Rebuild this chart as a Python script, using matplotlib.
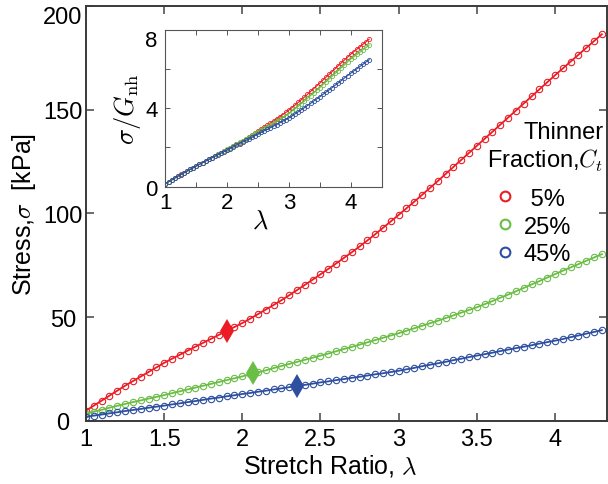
import matplotlib
matplotlib.use("Agg")
import matplotlib.pyplot as plt
from matplotlib.lines import Line2D

plt.rcParams["font.family"] = ["Liberation Sans", "DejaVu Sans"]
plt.rcParams["mathtext.fontset"] = "cm"

# stretch ratio samples (same for every series)
lam = [1.00, 1.05, 1.10, 1.15, 1.20, 1.25, 1.30, 1.35, 1.40, 1.45,
       1.50, 1.55, 1.60, 1.65, 1.70, 1.75, 1.80, 1.85, 1.90, 1.95,
       2.00, 2.05, 2.10, 2.15, 2.20, 2.25, 2.30, 2.35, 2.40, 2.45,
       2.50, 2.55, 2.60, 2.65, 2.70, 2.75, 2.80, 2.85, 2.90, 2.95,
       3.00, 3.05, 3.10, 3.15, 3.20, 3.25, 3.30, 3.35, 3.40, 3.45,
       3.50, 3.55, 3.60, 3.65, 3.70, 3.75, 3.80, 3.85, 3.90, 3.95,
       4.00, 4.05, 4.10, 4.15, 4.20, 4.25, 4.30]

# stress [kPa], main panel
stress_5 = [5.0, 7.4, 9.8, 12.2, 14.6, 17.0, 19.2, 21.4, 23.6, 25.8,
            28.0, 30.0, 31.9, 33.9, 35.8, 37.7, 39.6, 41.5, 43.4, 45.3,
            47.2, 49.3, 51.5, 53.7, 55.9, 58.2, 60.6, 63.1, 65.6, 68.1,
            70.7, 73.3, 75.9, 78.6, 81.3, 84.1, 87.0, 90.0, 93.1, 96.2,
            99.3, 102.5, 105.7, 109.0, 112.3, 115.6, 119.0, 122.4, 125.8, 129.2,
            132.6, 136.0, 139.4, 142.8, 146.2, 149.6, 153.0, 156.4, 159.8, 163.2,
            166.6, 169.9, 173.2, 176.5, 179.8, 183.1, 186.4]
stress_25 = [3.5, 4.5, 5.4, 6.4, 7.3, 8.2, 9.1, 9.9, 10.8, 11.6,
             12.5, 13.4, 14.3, 15.2, 16.1, 17.0, 17.9, 18.8, 19.7, 20.6,
             21.5, 22.5, 23.4, 24.4, 25.5, 26.5, 27.5, 28.5, 29.5, 30.5,
             31.5, 32.5, 33.6, 34.7, 35.7, 36.8, 37.9, 39.0, 40.1, 41.2,
             42.3, 43.5, 44.7, 45.9, 47.1, 48.3, 49.6, 50.9, 52.2, 53.5,
             54.8, 56.3, 57.8, 59.4, 60.9, 62.5, 64.1, 65.8, 67.4, 69.1,
             70.8, 72.4, 74.0, 75.6, 77.2, 78.8, 80.4]
stress_45 = [2.0, 2.6, 3.1, 3.7, 4.2, 4.8, 5.3, 5.8, 6.4, 6.9,
             7.4, 8.0, 8.5, 9.1, 9.6, 10.2, 10.8, 11.3, 11.9, 12.4,
             13.0, 13.5, 14.1, 14.6, 15.2, 15.7, 16.3, 16.9, 17.4, 18.0,
             18.6, 19.1, 19.7, 20.2, 20.8, 21.3, 21.9, 22.5, 23.0, 23.6,
             24.2, 24.9, 25.6, 26.4, 27.1, 27.8, 28.5, 29.3, 30.0, 30.8,
             31.5, 32.2, 32.9, 33.7, 34.4, 35.1, 35.8, 36.5, 37.3, 38.0,
             38.7, 39.5, 40.4, 41.2, 42.1, 42.9, 43.8]

# normalised stress sigma/G_nh, inset
norm_5 = [0.15, 0.24, 0.34, 0.43, 0.53, 0.62, 0.71, 0.79, 0.88, 0.96,
          1.05, 1.13, 1.22, 1.30, 1.39, 1.47, 1.55, 1.64, 1.72, 1.80,
          1.88, 1.97, 2.06, 2.15, 2.24, 2.33, 2.43, 2.53, 2.62, 2.72,
          2.82, 2.92, 3.03, 3.13, 3.24, 3.34, 3.45, 3.56, 3.67, 3.78,
          3.90, 4.03, 4.16, 4.29, 4.43, 4.56, 4.70, 4.85, 4.99, 5.14,
          5.28, 5.43, 5.58, 5.72, 5.87, 6.02, 6.17, 6.31, 6.46, 6.60,
          6.75, 6.88, 7.01, 7.13, 7.26, 7.39, 7.52]
norm_25 = [0.15, 0.24, 0.33, 0.43, 0.52, 0.61, 0.70, 0.78, 0.87, 0.96,
           1.05, 1.14, 1.22, 1.31, 1.39, 1.48, 1.56, 1.65, 1.73, 1.82,
           1.90, 1.99, 2.08, 2.16, 2.25, 2.34, 2.43, 2.52, 2.62, 2.71,
           2.80, 2.89, 2.98, 3.06, 3.15, 3.24, 3.33, 3.43, 3.52, 3.62,
           3.72, 3.85, 3.97, 4.10, 4.23, 4.36, 4.50, 4.64, 4.77, 4.91,
           5.05, 5.20, 5.34, 5.49, 5.63, 5.78, 5.92, 6.07, 6.21, 6.36,
           6.50, 6.62, 6.74, 6.86, 6.98, 7.10, 7.22]
norm_45 = [0.15, 0.24, 0.33, 0.43, 0.52, 0.61, 0.70, 0.79, 0.87, 0.96,
           1.05, 1.13, 1.21, 1.30, 1.38, 1.46, 1.54, 1.62, 1.70, 1.78,
           1.86, 1.94, 2.02, 2.11, 2.19, 2.27, 2.35, 2.43, 2.52, 2.60,
           2.68, 2.76, 2.84, 2.92, 3.00, 3.08, 3.16, 3.25, 3.33, 3.42,
           3.50, 3.60, 3.71, 3.81, 3.92, 4.02, 4.13, 4.24, 4.36, 4.47,
           4.58, 4.70, 4.82, 4.93, 5.05, 5.17, 5.29, 5.41, 5.54, 5.66,
           5.78, 5.90, 6.01, 6.13, 6.24, 6.36, 6.47]

# diamond markers (transition points)
mark_lam = [1.90, 2.07, 2.35]
mark_stress = [43.5, 23.0, 16.8]

labels = [" 5%", "25%", "45%"]
colors = ["#ec1c24", "#6abd45", "#2e4fa0"]
main_series = [stress_5, stress_25, stress_45]
inset_series = [norm_5, norm_25, norm_45]

fig = plt.figure(figsize=(6.08, 4.85), dpi=100)
ax = fig.add_axes([0.1414, 0.1299, 0.857, 0.8557])

for y, c in zip(main_series, colors):
    ax.plot(lam, y, "-o", color=c, lw=1.3, ms=4.6, mfc="none", mew=0.8)
for xm, ym, c in zip(mark_lam, mark_stress, colors):
    ax.plot(xm, ym, "d", color=c, ms=12, mew=0)

ax.set_xlim(1, 4.333)
ax.set_ylim(0, 200)
ax.set_xticks([1, 1.5, 2, 2.5, 3, 3.5, 4])
ax.set_xticklabels(["1", "1.5", "2", "2.5", "3", "3.5", "4"])
ax.set_yticks([0, 50, 100, 150, 200])
ax.tick_params(direction="in", top=True, right=True, length=6, width=1.1,
               labelsize=17, color="#444444")
ax.tick_params(axis="x", pad=5)
ax.tick_params(axis="y", pad=16.5)
ylabs = ax.get_yticklabels()
for lab in ylabs:
    lab.set_ha("center")
ylabs[-1].set_va("top")
for s in ax.spines.values():
    s.set_linewidth(1.4)
    s.set_color("#3a3a3a")
ax.set_xlabel("Stretch Ratio, $\\lambda$", fontsize=18)
ax.xaxis.set_label_coords(0.468, -0.075)
ax.set_ylabel("Stress,$\\sigma$  [kPa]", fontsize=18, labelpad=4)

# legend
handles = [Line2D([], [], ls="none", marker="o", mfc="none", mec=c, mew=1.5, ms=7)
           for c in colors]
ax.legend(handles, labels, loc="upper left", bbox_to_anchor=(0.77, 0.585),
          frameon=False, fontsize=17, handlelength=0.7, handletextpad=0.45,
          labelspacing=0.25, borderaxespad=0)
fig.text(0.992, 0.694, "Thinner\nFraction,$C_t$", ha="right", va="center",
         fontsize=17, linespacing=1.2)

# inset
axi = fig.add_axes([0.2722, 0.6134, 0.3553, 0.3231])
for y, c in zip(inset_series, colors):
    axi.plot(lam, y, "-o", color=c, lw=0.8, ms=3.0, mfc="none", mew=0.6)
axi.set_xlim(1, 4.5)
axi.set_ylim(0, 8)
axi.set_xticks([1, 1.5, 2, 2.5, 3, 3.5, 4, 4.5])
axi.set_xticklabels(["1", "", "2", "", "3", "", "4", ""])
axi.set_yticks([0, 2, 4, 6, 8])
axi.set_yticklabels(["0", "", "4", "", "8"])
axi.tick_params(direction="in", top=True, right=True, length=3.5, width=0.7,
                labelsize=16, color="#555555")
axi.tick_params(axis="x", pad=4)
axi.tick_params(axis="y", pad=10)
ilabs = axi.get_yticklabels()
for lab in ilabs:
    lab.set_ha("center")
ilabs[-1].set_va("top")
for s in axi.spines.values():
    s.set_linewidth(0.8)
    s.set_color("#555555")
axi.set_xlabel("$\\lambda$", fontsize=19)
axi.xaxis.set_label_coords(0.44, -0.14)
axi.set_ylabel("$\\sigma/G_{\\mathrm{nh}}$", fontsize=19, labelpad=2)

fig.savefig("out.png", dpi=100)
